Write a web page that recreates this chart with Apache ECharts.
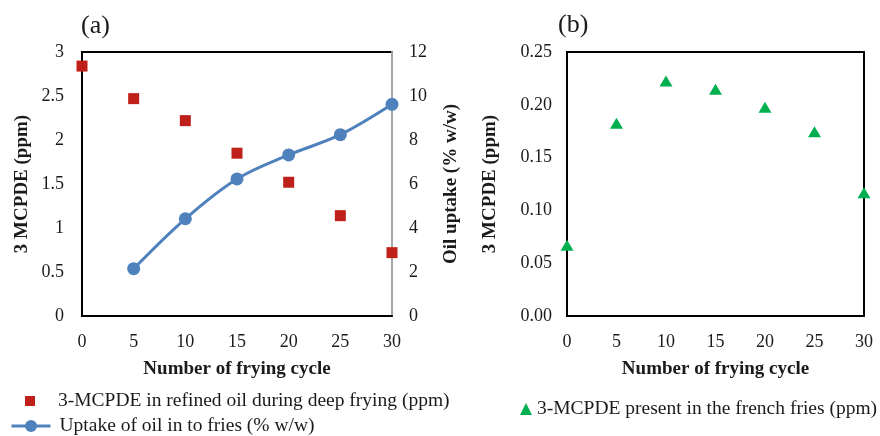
<!DOCTYPE html>
<html><head><meta charset="utf-8">
<script src="https://cdn.jsdelivr.net/npm/echarts@6/dist/echarts.min.js"></script>
<style>html,body{margin:0;padding:0;background:#fff}#c{width:880px;height:436px}</style>
</head><body><div id="c"></div>
<script>
var cycles = [0, 5, 10, 15, 20, 25, 30];
var oilMcpde = [2.84, 2.47, 2.22, 1.85, 1.52, 1.14, 0.72];
var uptakeCycles = [5, 10, 15, 20, 25, 30];
var oilUptake = [2.15, 4.42, 6.23, 7.32, 8.24, 9.62];
var friesMcpde = [0.067, 0.1825, 0.2225, 0.2147, 0.1976, 0.1745, 0.1168];
var nameA = '3-MCPDE in refined oil during deep frying (ppm)';
var nameU = 'Uptake of oil in to fries (% w/w)';
var nameB = '3-MCPDE present in the french fries (ppm)';

function pairs(xs, ys){ return xs.map(function(x,i){return [x, ys[i]];}); }

var F = 'Liberation Serif';
var txt = '#1a1a1a';
var lbl = {fontFamily:F, fontSize:18, color:txt};
var nm = {fontFamily:F, fontSize:19, fontWeight:'bold', color:txt};
var RED = '#c0201a', BLUE = '#4f81bd', GREEN = '#00b050';

function legendText(pad){ return {fontFamily:F, fontSize:19.5, color:txt, lineHeight:20, padding:pad}; }

var chart = echarts.init(document.getElementById('c'));
chart.setOption({
  animation:false,
  textStyle:{fontFamily:F},
  title:[
    {text:'(a)', left:76, top:8, textStyle:{fontFamily:F, fontSize:26, fontWeight:'normal', color:txt}},
    {text:'(b)', left:553, top:7, textStyle:{fontFamily:F, fontSize:26, fontWeight:'normal', color:txt}}
  ],
  grid:[
    {left:82, right:488, top:52, bottom:120, show:true, borderColor:'#000', borderWidth:2, backgroundColor:'transparent'},
    {left:567, right:16, top:52, bottom:120, show:true, borderColor:'#000', borderWidth:2, backgroundColor:'transparent'}
  ],
  xAxis:[
    {gridIndex:0, type:'value', min:0, max:30, interval:5, axisLine:{lineStyle:{color:'#000',width:2}}, axisTick:{show:false}, splitLine:{show:false},
     axisLabel:Object.assign({margin:17}, lbl), name:'Number of frying cycle', nameLocation:'middle', nameGap:44, nameTextStyle:nm},
    {gridIndex:1, type:'value', min:0, max:30, interval:5, axisLine:{lineStyle:{color:'#000',width:2}}, axisTick:{show:false}, splitLine:{show:false},
     axisLabel:Object.assign({margin:17}, lbl), name:'Number of frying cycle', nameLocation:'middle', nameGap:44, nameTextStyle:nm}
  ],
  yAxis:[
    {gridIndex:0, type:'value', min:0, max:3, interval:0.5, axisLine:{show:true, lineStyle:{color:'#000',width:2}}, axisTick:{show:false}, splitLine:{show:false},
     axisLabel:Object.assign({margin:18}, lbl), name:'3 MCPDE (ppm)', nameLocation:'middle', nameRotate:90, nameGap:50, nameTextStyle:nm},
    {gridIndex:0, type:'value', position:'right', min:0, max:12, interval:2, axisLine:{show:true, lineStyle:{color:'#a6a6a6',width:2}}, axisTick:{show:false}, splitLine:{show:false},
     axisLabel:Object.assign({margin:17}, lbl), name:'Oil uptake (% w/w)', nameLocation:'middle', nameRotate:90, nameGap:50, nameTextStyle:nm},
    {gridIndex:1, type:'value', min:0, max:0.25, interval:0.05, axisLine:{show:true, lineStyle:{color:'#000',width:2}}, axisTick:{show:false}, splitLine:{show:false},
     axisLabel:Object.assign({margin:15, formatter:function(v){return v.toFixed(2);}}, lbl), name:'3 MCPDE (ppm)', nameLocation:'middle', nameRotate:90, nameGap:67, nameTextStyle:nm}
  ],
  legend:[
    {left:20, top:386, itemWidth:10, itemHeight:10, textStyle:legendText([0,0,0,18]),
     data:[{name:nameA, icon:'rect'}]},
    {left:5, top:411, itemWidth:39, itemHeight:15, lineStyle:{width:3}, textStyle:legendText([0,0,0,4]),
     data:[{name:nameU}]},
    {left:515, top:394, itemWidth:12, itemHeight:12, textStyle:legendText([0,0,0,0]),
     data:[{name:nameB, icon:'triangle'}]}
  ],
  series:[
    {name:nameA, type:'scatter', xAxisIndex:0, yAxisIndex:0, symbol:'rect', symbolSize:11, itemStyle:{color:RED, opacity:1}, data:pairs(cycles, oilMcpde)},
    {name:nameU, type:'line', xAxisIndex:0, yAxisIndex:1, smooth:0.35, symbol:'circle', symbolSize:13, showSymbol:true,
     lineStyle:{color:BLUE, width:3}, itemStyle:{color:BLUE, opacity:1}, data:pairs(uptakeCycles, oilUptake)},
    {name:nameB, type:'scatter', xAxisIndex:1, yAxisIndex:2, symbol:'triangle', symbolSize:[13,11], itemStyle:{color:GREEN, opacity:1}, data:pairs(cycles, friesMcpde)}
  ]
});
</script></body></html>
